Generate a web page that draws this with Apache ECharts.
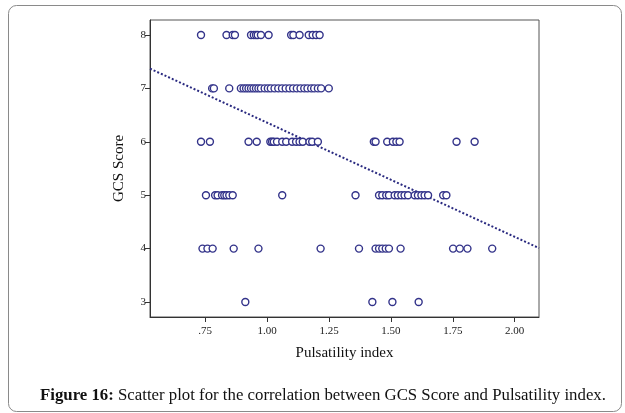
<!DOCTYPE html>
<html>
<head>
<meta charset="utf-8">
<script src="https://cdn.jsdelivr.net/npm/echarts@6/dist/echarts.min.js"></script>
<style>
  html, body { margin: 0; padding: 0; background: #fff; }
  #chart { width: 625px; height: 413px; }
</style>
</head>
<body>
<div id="chart"></div>
<script>
// Pulsatility index of each patient, grouped by GCS score
const gcsLevels = [8, 7, 6, 5, 4, 3];
const piGcs8 = [0.733, 0.836, 0.861, 0.870, 0.935, 0.946, 0.955, 0.962, 0.975, 1.006, 1.097, 1.106, 1.131, 1.168, 1.184, 1.198, 1.212];
const piGcs7 = [0.778, 0.785, 0.847, 0.894, 0.905, 0.915, 0.925, 0.935, 0.945, 0.955, 0.965, 0.975, 0.990, 1.003, 1.015, 1.030, 1.045, 1.060, 1.075, 1.090, 1.105, 1.120, 1.135, 1.150, 1.163, 1.178, 1.190, 1.205, 1.218, 1.249];
const piGcs6 = [0.733, 0.769, 0.925, 0.958, 1.013, 1.020, 1.027, 1.040, 1.061, 1.077, 1.101, 1.117, 1.131, 1.144, 1.171, 1.182, 1.205, 1.431, 1.438, 1.485, 1.508, 1.522, 1.535, 1.765, 1.838];
const piGcs5 = [0.753, 0.790, 0.800, 0.818, 0.827, 0.836, 0.847, 0.861, 1.061, 1.357, 1.452, 1.465, 1.481, 1.492, 1.515, 1.528, 1.542, 1.555, 1.569, 1.596, 1.609, 1.623, 1.636, 1.650, 1.711, 1.724];
const piGcs4 = [0.739, 0.759, 0.780, 0.865, 0.965, 1.216, 1.371, 1.438, 1.452, 1.465, 1.479, 1.492, 1.539, 1.751, 1.778, 1.809, 1.909];
const piGcs3 = [0.912, 1.425, 1.506, 1.612];

// Fitted linear trend, endpoints at the axis limits
const fitX = [0.527, 2.098];
const fitY = [7.37, 4.01];

// Axis ticks
const xTicks = [0.75, 1.00, 1.25, 1.50, 1.75, 2.00];
const yTicks = [3, 4, 5, 6, 7, 8];

const groups = [piGcs8, piGcs7, piGcs6, piGcs5, piGcs4, piGcs3];
const points = [];
groups.forEach((arr, i) => arr.forEach(pi => points.push([pi, gcsLevels[i]])));

const navy = '#33338a';
const serif = '"Liberation Serif", "Times New Roman", serif';

const chart = echarts.init(document.getElementById('chart'), null, { renderer: 'canvas' });
chart.setOption({
  animation: false,
  backgroundColor: '#fff',
  grid: {
    left: 150, top: 20, width: 389, height: 297,
    show: true, borderColor: '#555', borderWidth: 1, backgroundColor: '#fff'
  },
  xAxis: {
    type: 'value', min: 0.527, max: 2.098,
    name: 'Pulsatility index', nameLocation: 'middle', nameGap: 29,
    nameTextStyle: { fontFamily: serif, fontSize: 15, color: '#111' },
    axisLine: { show: true, lineStyle: { color: '#333', width: 1 } },
    axisTick: { show: true, length: 5, customValues: xTicks, lineStyle: { color: '#333' } },
    axisLabel: {
      customValues: xTicks, fontFamily: serif, fontSize: 11, color: '#222', margin: 9,
      formatter: v => v < 1 ? '.' + v.toFixed(2).split('.')[1] : v.toFixed(2)
    },
    splitLine: { show: false }
  },
  yAxis: {
    type: 'value', min: 2.719, max: 8.281,
    name: 'GCS Score', nameLocation: 'middle', nameGap: 23, nameRotate: 90,
    nameTextStyle: { fontFamily: serif, fontSize: 15, color: '#111' },
    axisLine: { show: true, lineStyle: { color: '#333', width: 1 } },
    axisTick: { show: true, length: 5, customValues: yTicks, lineStyle: { color: '#333' } },
    axisLabel: { customValues: yTicks, fontFamily: serif, fontSize: 11, color: '#222', margin: 4 },
    splitLine: { show: false }
  },
  series: [
    {
      type: 'line',
      data: [[fitX[0], fitY[0]], [fitX[1], fitY[1]]],
      symbol: 'none',
      lineStyle: { color: '#2a2a80', width: 2, type: [2, 2] },
      z: 1
    },
    {
      type: 'scatter',
      data: points,
      symbol: 'circle',
      symbolSize: 7,
      itemStyle: { color: '#fff', borderColor: navy, borderWidth: 1.4, opacity: 1 },
      z: 2
    }
  ],
  graphic: [
    {
      type: 'rect', left: 6, top: 3, z: -10, silent: true,
      shape: { width: 613, height: 406, r: 8 },
      style: { fill: 'none', stroke: '#8a8a8a', lineWidth: 1 }
    },
    {
      type: 'text', left: 40, top: 387,
      style: {
        text: '{b|Figure 16:} Scatter plot for the correlation between GCS Score and Pulsatility index.',
        font: '16.8px ' + serif, fill: '#111',
        rich: { b: { fontWeight: 'bold', fontFamily: serif, fontSize: 16.8, fill: '#111' } }
      }
    }
  ]
});
</script>
</body>
</html>
